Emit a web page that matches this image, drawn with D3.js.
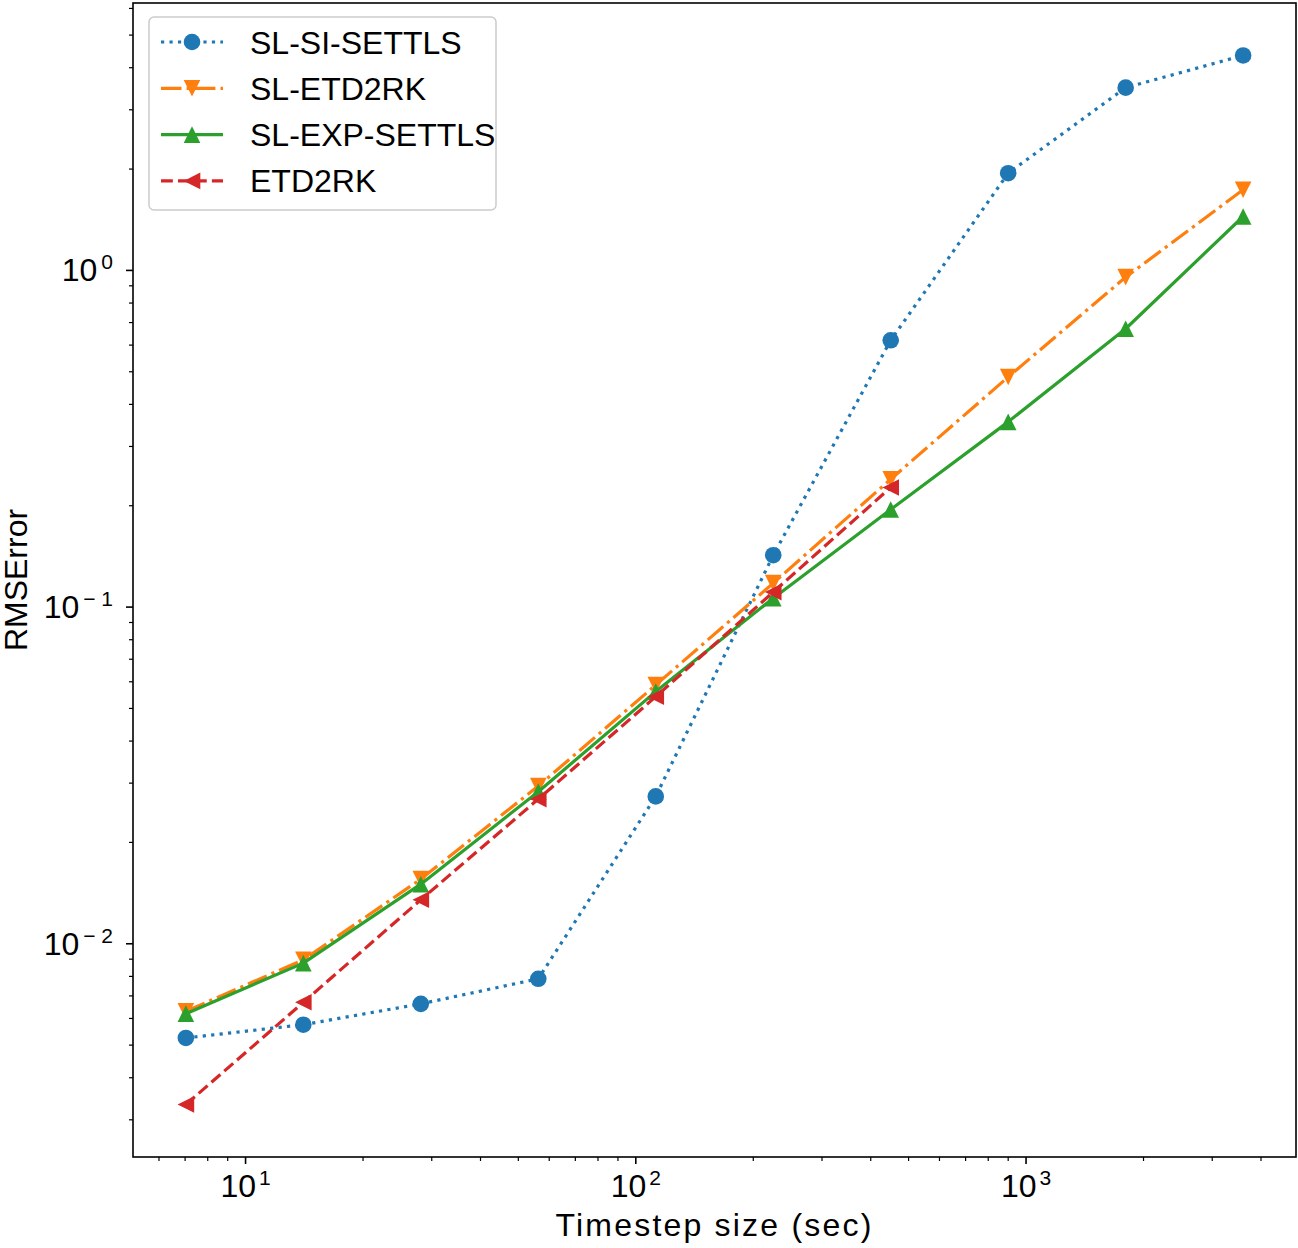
<!DOCTYPE html>
<html>
<head>
<meta charset="utf-8">
<title>RMSError vs timestep size</title>
<script src="https://d3js.org/d3.v7.min.js"></script>
<style>
	body { margin: 0; background: #fff; }
	text { font-family: "Liberation Sans", Arial, sans-serif; fill: #000; }
</style>
</head>
<body>
<script type="text/javascript">

	// timestep sizes (sec)
	var timesteps = [7.03125, 14.0625, 28.125, 56.25, 112.5, 225, 450, 900, 1800, 3600]

	// RMS errors
	var slSiSettls  = [0.00525, 0.00575, 0.00663, 0.00787, 0.0274, 0.1426, 0.620, 1.944, 3.49, 4.35]
	var slEtd2rk    = [0.00630, 0.00896, 0.01556, 0.0294, 0.0587, 0.1178, 0.2398, 0.4825, 0.955, 1.736]
	var slExpSettls = [0.00620, 0.00876, 0.01503, 0.0283, 0.0561, 0.1063, 0.195, 0.355, 0.671, 1.446]
	var etd2rk      = [0.00333, 0.00670, 0.01351, 0.0269, 0.0542, 0.1108, 0.2266]

	var seriesNames = ["SL-SI-SETTLS", "SL-ETD2RK", "SL-EXP-SETTLS", "ETD2RK"]
	var xTickExps = [1, 2, 3]
	var yTickExps = [-2, -1, 0]

	var width = 1298, height = 1248
	var plot = {left: 133, right: 1296, top: 3, bottom: 1157}

	var lw = 3.2
	var series = [
		{name: seriesNames[0], values: slSiSettls,  color: "#1f77b4", dash: [lw * 1, lw * 1.65].join(","), marker: "o"},
		{name: seriesNames[1], values: slEtd2rk,    color: "#ff7f0e", dash: [lw * 6.4, lw * 1.6, lw * 1, lw * 1.6].join(","), marker: "v"},
		{name: seriesNames[2], values: slExpSettls, color: "#2ca02c", dash: null, marker: "^"},
		{name: seriesNames[3], values: etd2rk,      color: "#d62728", dash: [lw * 3.7, lw * 1.6].join(","), marker: "<"}
	]

	var svg = d3.select("body").append("svg")
		.attr("width", width)
		.attr("height", height)

	// log-space 5% margins like matplotlib autoscale
	function logPad(lo, hi) {
		var a = Math.log10(lo), b = Math.log10(hi), m = (b - a) * 0.05
		return [Math.pow(10, a - m), Math.pow(10, b + m)]
	}
	var allY = [].concat(slSiSettls, slEtd2rk, slExpSettls, etd2rk)

	var x = d3.scaleLog()
		.domain(logPad(d3.min(timesteps), d3.max(timesteps)))
		.range([plot.left, plot.right])
	var y = d3.scaleLog()
		.domain(logPad(d3.min(allY), d3.max(allY)))
		.range([plot.bottom, plot.top])

	var fs = 32, tickFs = 32, supFs = 21

	// minor ticks at 2..9 x 10^k
	function minorTicks(scale) {
		var d = scale.domain(), out = []
		for (var e = Math.floor(Math.log10(d[0])); e <= Math.ceil(Math.log10(d[1])); e++) {
			for (var k = 2; k <= 9; k++) {
				var v = k * Math.pow(10, e)
				if (v >= d[0] && v <= d[1]) out.push(v)
			}
		}
		return out
	}

	var xAxis = svg.append("g").attr("class", "x-axis")
	xAxis.selectAll("line.minor").data(minorTicks(x)).enter().append("line")
		.attr("x1", d => x(d)).attr("x2", d => x(d))
		.attr("y1", plot.bottom).attr("y2", plot.bottom + 4)
		.attr("stroke", "#000").attr("stroke-width", 1.2)
	xAxis.selectAll("line.major").data(xTickExps).enter().append("line")
		.attr("x1", d => x(Math.pow(10, d))).attr("x2", d => x(Math.pow(10, d)))
		.attr("y1", plot.bottom).attr("y2", plot.bottom + 7)
		.attr("stroke", "#000").attr("stroke-width", 1.6)
	var xl = xAxis.selectAll("text").data(xTickExps).enter().append("text")
		.attr("x", d => x(Math.pow(10, d)))
		.attr("y", plot.bottom + 40)
		.attr("text-anchor", "middle")
		.style("font-size", tickFs + "px")
	xl.append("tspan").text("10")
	xl.append("tspan").attr("dx", 3).attr("dy", -12).style("font-size", supFs + "px").text(d => d)

	var yAxis = svg.append("g").attr("class", "y-axis")
	yAxis.selectAll("line.minor").data(minorTicks(y)).enter().append("line")
		.attr("x1", plot.left - 4).attr("x2", plot.left)
		.attr("y1", d => y(d)).attr("y2", d => y(d))
		.attr("stroke", "#000").attr("stroke-width", 1.2)
	yAxis.selectAll("line.major").data(yTickExps).enter().append("line")
		.attr("x1", plot.left - 7).attr("x2", plot.left)
		.attr("y1", d => y(Math.pow(10, d))).attr("y2", d => y(Math.pow(10, d)))
		.attr("stroke", "#000").attr("stroke-width", 1.6)
	var yl = yAxis.selectAll("text").data(yTickExps).enter().append("text")
		.attr("x", plot.left - 20)
		.attr("y", d => y(Math.pow(10, d)) + 11)
		.attr("text-anchor", "end")
		.style("font-size", tickFs + "px")
	yl.append("tspan").text("10")
	yl.append("tspan").attr("dx", 4).attr("dy", -12).style("font-size", supFs + "px")
		.text(d => d < 0 ? "\u2212 " + (-d) : String(d))

	// axis labels
	svg.append("text")
		.attr("x", (plot.left + plot.right) / 2)
		.attr("y", 1236)
		.attr("text-anchor", "middle")
		.style("font-size", fs + "px")
		.style("letter-spacing", "2.2px")
		.text("Timestep size (sec)")
	svg.append("text")
		.attr("transform", "translate(27," + ((plot.top + plot.bottom) / 2) + ") rotate(-90)")
		.attr("text-anchor", "middle")
		.style("font-size", fs + "px")
		.text("RMSError")

	// marker shapes
	var ms = 8.3
	function markerPath(type, r) {
		if (type == "v") return "M" + (-r) + "," + (-r) + "L" + r + "," + (-r) + "L0," + r + "Z"
		if (type == "^") return "M0," + (-r) + "L" + (-r) + "," + r + "L" + r + "," + r + "Z"
		if (type == "<") return "M" + (-r) + ",0L" + r + "," + (-r) + "L" + r + "," + r + "Z"
		return d3.symbol().type(d3.symbolCircle).size(Math.PI * r * r)()
	}

	svg.append("clipPath").attr("id", "plotclip").append("rect")
		.attr("x", plot.left).attr("y", plot.top)
		.attr("width", plot.right - plot.left).attr("height", plot.bottom - plot.top)

	var line = d3.line()
		.x(d => x(d[0]))
		.y(d => y(d[1]))

	var lines = svg.append("g").attr("clip-path", "url(#plotclip)")
	series.forEach(function(s) {
		var pts = s.values.map((v, i) => [timesteps[i], v])
		var g = lines.append("g")
		g.append("path")
			.attr("d", line(pts))
			.attr("fill", "none")
			.attr("stroke", s.color)
			.attr("stroke-width", lw)
			.attr("stroke-dasharray", s.dash)
			.attr("stroke-linejoin", "round")
		g.selectAll("path.m").data(pts).enter().append("path")
			.attr("class", "m")
			.attr("transform", d => "translate(" + x(d[0]) + "," + y(d[1]) + ")")
			.attr("d", markerPath(s.marker, ms))
			.attr("fill", s.color)
	})

	// frame
	svg.append("rect")
		.attr("x", plot.left).attr("y", plot.top)
		.attr("width", plot.right - plot.left).attr("height", plot.bottom - plot.top)
		.attr("fill", "none").attr("stroke", "#000").attr("stroke-width", 1.6)

	// legend
	var legend = svg.append("g").attr("transform", "translate(149,17)")
	legend.append("rect")
		.attr("width", 347).attr("height", 193)
		.attr("rx", 5).attr("ry", 5)
		.attr("fill", "#fff").attr("fill-opacity", 0.8)
		.attr("stroke", "#ccc").attr("stroke-width", 1.5)
	var rows = legend.selectAll("g.row").data(series).enter().append("g")
		.attr("class", "row")
		.attr("transform", (d, i) => "translate(0," + (25 + i * 46.3) + ")")
	rows.append("line")
		.attr("x1", 12).attr("x2", 74)
		.attr("stroke", d => d.color)
		.attr("stroke-width", lw)
		.attr("stroke-dasharray", d => d.dash)
	rows.append("path")
		.attr("transform", "translate(43,0)")
		.attr("d", d => markerPath(d.marker, ms))
		.attr("fill", d => d.color)
	rows.append("text")
		.attr("x", 101)
		.attr("y", 11.5)
		.style("font-size", fs + "px")
		.text(d => d.name)

</script>
</body>
</html>
